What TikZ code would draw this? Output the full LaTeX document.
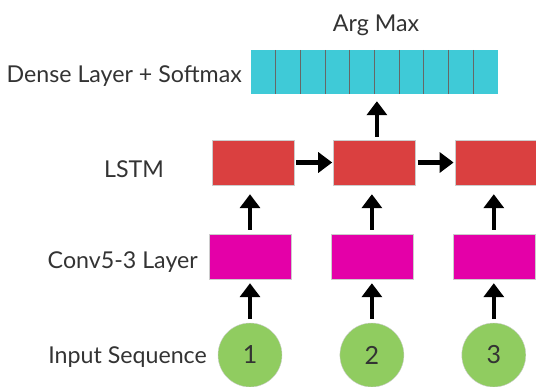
\documentclass[tikz,border=0pt]{standalone}
\usepackage{fontspec}
\setmainfont{Lato}
\usepackage{tikz}
\usetikzlibrary{chains,arrows.meta}
\definecolor{densecyan}{HTML}{3FCAD7}
\definecolor{lstmred}{HTML}{DA4040}
\definecolor{convpink}{HTML}{E400A8}
\definecolor{inputgreen}{HTML}{90CC60}
\definecolor{textgray}{HTML}{333333}
\tikzstyle{rowlabel}=[text=textgray,font=\fontsize{23.2}{28}\selectfont,inner sep=0pt]
\tikzstyle{densecell}=[fill=densecyan,minimum width=24.3pt,minimum height=44pt,inner sep=0pt]
\tikzstyle{divider}=[draw=gray!80!black,line width=0.8pt]
\tikzstyle{lstmcell}=[fill=lstmred,draw=gray!40,minimum width=82pt,minimum height=45pt,inner sep=0pt]
\tikzstyle{convcell}=[fill=convpink,draw=gray!40,minimum width=82pt,minimum height=45pt,inner sep=0pt]
\tikzstyle{token}=[circle,fill=inputgreen,draw=gray!40,minimum size=64pt,inner sep=0pt,
  text=textgray,font=\fontsize{25}{30}\selectfont]
\tikzstyle{flow}=[line width=4.5pt,-{Triangle[width=20pt,length=14pt]}]

\begin{document}
\begin{tikzpicture}[x=1pt,y=-1pt]
\useasboundingbox (0,0) rectangle (536,386);

% dense layer, ten cells
\begin{scope}[start chain=dense going right, node distance=0pt]
    \node [on chain=dense,densecell] (d1) at (263.15,72) {};
    \foreach \i in {2,...,10}
        \node [on chain=dense,densecell] (d\i) {};
\end{scope}
\foreach \i in {1,...,9}
    \draw [divider] (d\i.north east) -- (d\i.south east);

% lstm row
\begin{scope}[start chain=lstm going right, node distance=39pt]
    \node [on chain=lstm,lstmcell] (lstm1) at (253,162.5) {};
    \node [on chain=lstm,lstmcell] (lstm2) {};
    \node [on chain=lstm,lstmcell] (lstm3) {};
\end{scope}

% conv row
\begin{scope}[start chain=conv going right, node distance=39.5pt]
    \node [on chain=conv,convcell] (conv1) at (250,256.5) {};
    \node [on chain=conv,convcell] (conv2) {};
    \node [on chain=conv,convcell] (conv3) {};
\end{scope}

% input tokens
\begin{scope}[start chain=seq going right, node distance=57.5pt]
    \node [on chain=seq,token] (in1) at (250,355) {1};
    \node [on chain=seq,token] (in2) {2};
    \node [on chain=seq,token] (in3) {3};
\end{scope}

% labels
\node [rowlabel,anchor=base] (argmax) at (376,31) {Arg Max};
\node [rowlabel,anchor=base east] (denselbl) at (242,82) {Dense Layer + Softmax};
\node [rowlabel,anchor=base] (lstmlbl) at (134,177) {LSTM};
\node [rowlabel,anchor=base east] (convlbl) at (198,268) {Conv5-3 Layer};
\node [rowlabel,anchor=base east] (inlbl) at (207,363) {Input Sequence};

% arrows
\foreach \i in {1,2,3} {
    \draw [flow,shorten <=4pt,shorten >=4pt] (in\i) -- (conv\i);
    \draw [flow,shorten <=4pt,shorten >=9pt] (conv\i.north) -- (conv\i.north |- lstm\i.south);
}
\draw [flow,shorten <=2pt,shorten >=1pt] (lstm1) -- (lstm2);
\draw [flow,shorten <=2pt,shorten >=1pt] (lstm2) -- (lstm3);
\draw [flow,shorten <=3pt,shorten >=7pt] ([xshift=2.5pt]lstm2.north) -- ([xshift=2.5pt]lstm2.north |- d5.south);
\end{tikzpicture}
\end{document}
